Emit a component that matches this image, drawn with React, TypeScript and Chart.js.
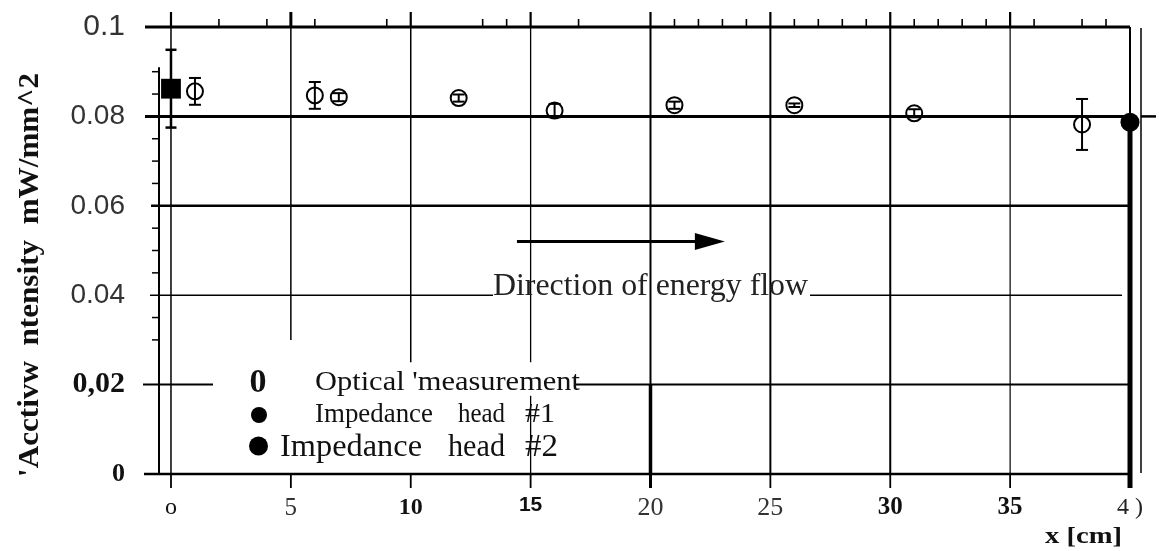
import React, { useEffect, useRef } from "react";
import { Chart, registerables } from "chart.js";

Chart.register(...registerables);

// ---- data ----
const xTickValues = [0, 5, 10, 15, 20, 25, 30, 35, 40];
const xTickLabels = ["o", "5", "10", "15", "20", "25", "30", "35", "4 )"];
const yTickValues = [0, 0.02, 0.04, 0.06, 0.08, 0.1];
const yTickLabels = ["0", "0,02", "0.04", "0.06", "0.08", "0.1"];
const yMinorTicks = [0.03, 0.035, 0.045, 0.05, 0.055, 0.065, 0.07, 0.075, 0.085, 0.09];
const xTopTicks = [0, 2, 4, 5, 6, 9, 10, 13, 14, 15, 17, 20, 21, 22, 23, 24, 25, 26, 27, 28, 29, 30, 31, 32, 33, 34, 35, 36, 38, 39];

const opticalX = [1, 6, 7, 12, 16, 21, 26, 31, 38];
const opticalY = [0.0856, 0.0847, 0.0843, 0.0841, 0.0813, 0.0825, 0.0825, 0.0807, 0.0782];
const opticalErr = [0.003, 0.003, 0.0009, 0.0008, 0.0015, 0.0008, 0.0004, 0.0009, 0.0057];

const head1X = [0];
const head1Y = [0.0862];
const head1Err = [0.0087];

const head2X = [40];
const head2Y = [0.0787];

// ---- styles ----
const SERIF = '"Liberation Serif", "DejaVu Serif", serif';
const SANS = '"Liberation Sans", "DejaVu Sans", sans-serif';

const xTickFonts = [
  { family: SERIF, size: 24, weight: "normal" },
  { family: SERIF, size: 25, weight: "normal" },
  { family: SERIF, size: 24, weight: "bold" },
  { family: SANS, size: 21, weight: "bold" },
  { family: SERIF, size: 26, weight: "normal" },
  { family: SERIF, size: 26, weight: "normal" },
  { family: SERIF, size: 25, weight: "bold" },
  { family: SERIF, size: 25, weight: "bold" },
  { family: SERIF, size: 24, weight: "normal" },
];
const xTickColors = ["#111", "#333", "#111", "#111", "#333", "#333", "#111", "#111", "#222"];

const yTickFonts = [
  { family: SERIF, size: 26, weight: "bold" },
  { family: SERIF, size: 30, weight: "bold" },
  { family: SANS, size: 28, weight: "normal" },
  { family: SANS, size: 28, weight: "normal" },
  { family: SANS, size: 28, weight: "normal" },
  { family: SANS, size: 30, weight: "normal" },
];
const yTickColors = ["#111", "#111", "#333", "#333", "#333", "#333"];

function seg(ctx: CanvasRenderingContext2D, x1: number, y1: number, x2: number, y2: number, w: number) {
  ctx.beginPath();
  ctx.lineWidth = w;
  ctx.moveTo(x1, y1);
  ctx.lineTo(x2, y2);
  ctx.stroke();
}

// text squeezed or stretched horizontally to a given width
function fitText(
  ctx: CanvasRenderingContext2D,
  text: string,
  x: number,
  y: number,
  font: string,
  width: number,
  align: CanvasTextAlign = "left",
  baseline: CanvasTextBaseline = "alphabetic",
  color = "#111"
) {
  ctx.save();
  ctx.font = font;
  ctx.fillStyle = color;
  ctx.textAlign = align;
  ctx.textBaseline = baseline;
  const w = ctx.measureText(text).width || 1;
  ctx.translate(x, y);
  ctx.scale(width / w, 1);
  ctx.fillText(text, 0, 0);
  ctx.restore();
}

const framePlugin = {
  id: "frame",
  beforeDatasetsDraw(chart: any) {
    const ctx: CanvasRenderingContext2D = chart.ctx;
    const xs = chart.scales.x;
    const ys = chart.scales.y;
    const X = (v: number) => xs.getPixelForValue(v);
    const Y = (v: number) => ys.getPixelForValue(v);
    const L = chart.chartArea.left;
    const R = X(40);
    const T = Y(0.1);
    const B = Y(0);
    ctx.save();
    ctx.strokeStyle = "#000";
    ctx.lineCap = "butt";

    // horizontal rules
    seg(ctx, L - 14, Y(0.1), R, Y(0.1), 3);
    seg(ctx, L - 14, Y(0.08), R, Y(0.08), 3);
    seg(ctx, R + 11, Y(0.08), R + 26, Y(0.08), 2.5);
    seg(ctx, L - 8, Y(0.06), R, Y(0.06), 2.5);
    seg(ctx, L - 9, Y(0.04), 493, Y(0.04), 1.5);
    seg(ctx, 810, Y(0.04), R - 8, Y(0.04), 1.5);
    seg(ctx, L - 16, Y(0.02), 213, Y(0.02), 2);
    seg(ctx, 575, Y(0.02), R, Y(0.02), 2);
    seg(ctx, L - 15, B, R, B, 2.5);

    // left axis
    seg(ctx, L, Y(0.091), L, B, 2);
    yMinorTicks.forEach((v) => seg(ctx, L - 7, Y(v), L, Y(v), 1.5));

    // vertical rules
    seg(ctx, X(0), T, X(0), B, 1.5);
    seg(ctx, X(5), T, X(5), Y(0.03), 1.5);
    seg(ctx, X(10), T, X(10), Y(0.025), 1.5);
    seg(ctx, X(15), T, X(15), Y(0.025), 1.3);
    seg(ctx, X(15), Y(0.0175), X(15), B, 1.3);
    seg(ctx, X(20), T, X(20), B, 2);
    seg(ctx, X(20), Y(0.02), X(20), B, 3.5);
    seg(ctx, X(25), T, X(25), B, 2);
    seg(ctx, X(30), T, X(30), B, 2);
    seg(ctx, X(35), T, X(35), B, 1.2);
    seg(ctx, X(40), T, X(40), Y(head2Y[0]), 2);
    seg(ctx, X(40), Y(head2Y[0]), X(40), B + 14, 5);
    seg(ctx, R + 11, T + 1, R + 11, B - 1, 1.5);

    // ticks below the x axis
    xTickValues.slice(0, 8).forEach((v) => seg(ctx, X(v), B, X(v), B + 14, v === 20 ? 3 : 1.8));

    // ticks above the top rule
    xTopTicks.forEach((v) => {
      const major = v % 5 === 0;
      seg(ctx, X(v), T - (major ? 15 : 8), X(v), T, v === 5 ? 3 : major ? 2.2 : 1.6);
    });
    ctx.restore();
  },
  afterDatasetsDraw(chart: any) {
    const ctx: CanvasRenderingContext2D = chart.ctx;
    const xs = chart.scales.x;
    const ys = chart.scales.y;
    const X = (v: number) => xs.getPixelForValue(v);
    const Y = (v: number) => ys.getPixelForValue(v);
    ctx.save();
    ctx.strokeStyle = "#000";
    const bar = (x: number, y: number, e: number, cap: number, w: number) => {
      const px = X(x);
      const top = Y(y + e);
      const bot = Y(y - e);
      seg(ctx, px, top, px, bot, w);
      seg(ctx, px - cap, top, px + cap, top, w);
      seg(ctx, px - cap, bot, px + cap, bot, w);
    };
    opticalX.forEach((x, i) => bar(x, opticalY[i], opticalErr[i], 6, 2));
    head1X.forEach((x, i) => bar(x, head1Y[i], head1Err[i], 5.5, 2.5));
    ctx.restore();
  },
  afterDraw(chart: any) {
    const ctx: CanvasRenderingContext2D = chart.ctx;
    const xs = chart.scales.x;
    const ys = chart.scales.y;
    const X = (v: number) => xs.getPixelForValue(v);
    const Y = (v: number) => ys.getPixelForValue(v);

    // arrow
    ctx.save();
    ctx.strokeStyle = "#000";
    ctx.fillStyle = "#000";
    const ay = Y(0.052);
    seg(ctx, X(14.43), ay, X(22), ay, 3);
    ctx.beginPath();
    ctx.moveTo(X(21.85), ay - 8.5);
    ctx.lineTo(X(23.1), ay);
    ctx.lineTo(X(21.85), ay + 8.5);
    ctx.closePath();
    ctx.fill();
    ctx.restore();

    fitText(ctx, "Direction of energy flow", 493, Y(0.04), `32px ${SERIF}`, 315, "left", "alphabetic", "#222");

    // legend
    fitText(ctx, "0", 258, 392, `bold 34px ${SERIF}`, 17, "center");
    fitText(ctx, "Optical 'measurement", 315, 390, `27px ${SERIF}`, 265);

    ctx.save();
    ctx.fillStyle = "#000";
    ctx.beginPath();
    ctx.arc(259, 415, 8, 0, Math.PI * 2);
    ctx.fill();
    ctx.beginPath();
    ctx.arc(258.5, 446, 9.5, 0, Math.PI * 2);
    ctx.fill();
    ctx.restore();

    fitText(ctx, "Impedance", 315, 422, `27px ${SERIF}`, 118);
    fitText(ctx, "head", 458, 422, `27px ${SERIF}`, 47);
    fitText(ctx, "#1", 525, 422, `27px ${SERIF}`, 30);
    fitText(ctx, "Impedance", 280, 455.5, `32px ${SERIF}`, 142);
    fitText(ctx, "head", 448, 455.5, `32px ${SERIF}`, 57);
    fitText(ctx, "#2", 525, 455.5, `32px ${SERIF}`, 33);

    // axis titles
    ctx.save();
    ctx.translate(30, 275);
    ctx.rotate(-Math.PI / 2);
    fitText(ctx, "'Acctivw  ntensity  mW/mm^2", 0, 0, `bold 30px ${SERIF}`, 404, "center", "middle");
    ctx.restore();
    fitText(ctx, "x [cm]", 1045, 537, `bold 24px ${SERIF}`, 77, "left", "middle");
  },
};

export default function App() {
  const ref = useRef<HTMLCanvasElement | null>(null);

  useEffect(() => {
    if (!ref.current) return;
    const chart = new Chart(ref.current, {
      type: "scatter",
      data: {
        datasets: [
          {
            label: "Optical measurement",
            data: opticalX.map((x, i) => ({ x, y: opticalY[i] })),
            pointStyle: "circle",
            pointRadius: 8,
            pointBorderWidth: 2,
            borderColor: "#000",
            backgroundColor: "rgba(0,0,0,0)",
            pointBackgroundColor: "rgba(0,0,0,0)",
            clip: false,
          } as any,
          {
            label: "Impedance head #1",
            data: head1X.map((x, i) => ({ x, y: head1Y[i] })),
            pointStyle: "rect",
            pointRadius: 14,
            pointBorderWidth: 0,
            borderColor: "#000",
            backgroundColor: "#000",
            pointBackgroundColor: "#000",
            clip: false,
          } as any,
          {
            label: "Impedance head #2",
            data: head2X.map((x, i) => ({ x, y: head2Y[i] })),
            pointStyle: "circle",
            pointRadius: 9.5,
            pointBorderWidth: 0,
            borderColor: "#000",
            backgroundColor: "#000",
            pointBackgroundColor: "#000",
            clip: false,
          } as any,
        ],
      },
      options: {
        responsive: false,
        animation: false,
        events: [],
        layout: { padding: { top: 27, right: 29, left: 0, bottom: 0 } },
        plugins: { legend: { display: false }, tooltip: { enabled: false } },
        scales: {
          x: {
            type: "linear",
            min: -0.5,
            max: 40,
            afterBuildTicks: (s: any) => {
              s.ticks = xTickValues.map((value) => ({ value }));
            },
            afterFit: (s: any) => {
              s.height = 77;
              s.paddingLeft = 0;
              s.paddingRight = 0;
            },
            grid: { display: false, drawTicks: false },
            border: { display: false },
            ticks: {
              padding: 19,
              autoSkip: false,
              maxRotation: 0,
              callback: (_v: any, i: number) => xTickLabels[i],
              font: (c: any) => xTickFonts[c.index] as any,
              color: (c: any) => xTickColors[c.index],
            },
          },
          y: {
            type: "linear",
            min: 0,
            max: 0.1,
            afterBuildTicks: (s: any) => {
              s.ticks = yTickValues.map((value) => ({ value }));
            },
            afterFit: (s: any) => {
              s.width = 159;
              s.paddingTop = 0;
              s.paddingBottom = 0;
            },
            grid: { display: false, drawTicks: false },
            border: { display: false },
            ticks: {
              padding: 34,
              autoSkip: false,
              callback: (_v: any, i: number) => yTickLabels[i],
              font: (c: any) => yTickFonts[c.index] as any,
              color: (c: any) => yTickColors[c.index],
            },
          },
        },
      },
      plugins: [framePlugin],
    });
    return () => chart.destroy();
  }, []);

  return (
    <div style={{ position: "fixed", left: 0, top: 0, width: 1159, height: 551, background: "#fff" }}>
      <canvas ref={ref} width={1159} height={551} style={{ display: "block" }} />
    </div>
  );
}
